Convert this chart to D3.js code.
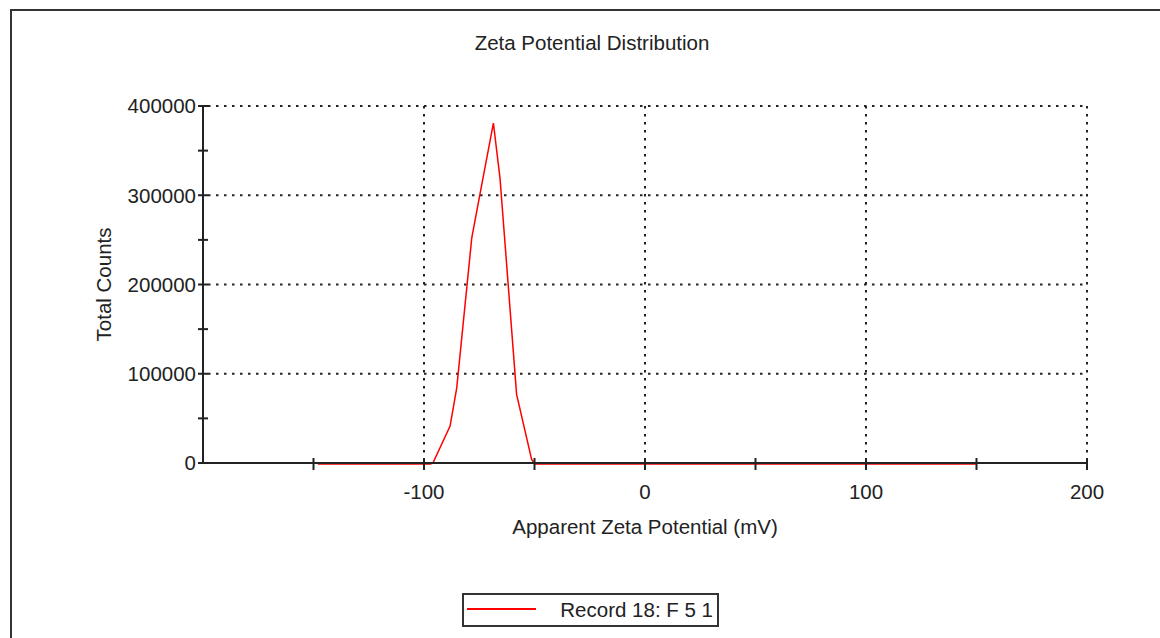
<!DOCTYPE html>
<html>
<head>
<meta charset="utf-8">
<script src="https://cdn.jsdelivr.net/npm/d3@7"></script>
<style>
  html, body { margin: 0; padding: 0; background: #fff; }
  svg { display: block; }
  text { font-family: "Liberation Sans", Arial, sans-serif; fill: #222; }
</style>
</head>
<body>
<div id="chart"></div>
<script>
// Data
const zeta = [-148, -97, -95.8, -88.2, -85.2, -78.4, -74.7, -68.6, -65.6, -58.1, -51.3, -49.8, 150]
const counts = [0, 0, 2000, 42500, 85000, 253000, 302000, 382000, 320000, 78000, 5000, 0, 0]

const xTicks = [-200, -150, -100, -50, 0, 50, 100, 150, 200]
const xGrid = [-100, 0, 100, 200]
const xLabels = [-100, 0, 100, 200]
const yTicks = [0, 50000, 100000, 150000, 200000, 250000, 300000, 350000, 400000]
const yGrid = [100000, 200000, 300000, 400000]
const yLabels = [0, 100000, 200000, 300000, 400000]

const title = 'Zeta Potential Distribution'
const xTitle = 'Apparent Zeta Potential (mV)'
const yTitle = 'Total Counts'
const seriesName = 'Record 18: F 5 1'

const W = 1160
const H = 638
const ink = '#222'
const fontSize = 20.5

const svg = d3.select('#chart').append('svg')
  .attr('width', W)
  .attr('height', H)

// outer frame (runs off the right and bottom edges)
svg.append('rect')
  .attr('x', 11)
  .attr('y', 10)
  .attr('width', W + 20)
  .attr('height', H + 20)
  .attr('fill', 'none')
  .attr('stroke', '#333')
  .attr('stroke-width', 2)

const x = d3.scaleLinear().domain([-200, 200]).range([203, 1087])
const y = d3.scaleLinear().domain([0, 400000]).range([463, 106])

// grid
const grid = svg.append('g')
  .attr('stroke', ink)
  .attr('stroke-width', 2)
  .attr('stroke-dasharray', '2.5,5.5')

grid.selectAll('.hgrid')
  .data(yGrid)
  .enter().append('line')
  .attr('x1', x(-200) + 5)
  .attr('x2', x(200))
  .attr('y1', d => y(d))
  .attr('y2', d => y(d))

grid.selectAll('.vgrid')
  .data(xGrid)
  .enter().append('line')
  .attr('x1', d => x(d))
  .attr('x2', d => x(d))
  .attr('y1', y(400000))
  .attr('y2', y(0) - 6)

// data line, sits just under the baseline
const line = d3.line()
  .x((d, i) => x(zeta[i]))
  .y(d => y(d))

svg.append('path')
  .datum(counts)
  .attr('d', line)
  .attr('transform', 'translate(0,1)')
  .attr('fill', 'none')
  .attr('stroke', '#f00')
  .attr('stroke-width', 1.5)

// axes
const axes = svg.append('g')
  .attr('stroke', ink)
  .attr('stroke-width', 2)

axes.append('line')
  .attr('x1', x(-200)).attr('x2', x(200))
  .attr('y1', y(0)).attr('y2', y(0))

axes.append('line')
  .attr('x1', x(-200)).attr('x2', x(-200))
  .attr('y1', y(400000)).attr('y2', y(0))

axes.selectAll('.xtick')
  .data(xTicks.filter(d => d > -200))
  .enter().append('line')
  .attr('x1', d => x(d)).attr('x2', d => x(d))
  .attr('y1', y(0) - 5).attr('y2', y(0) + 7)

axes.selectAll('.ytick')
  .data(yTicks)
  .enter().append('line')
  .attr('x1', x(-200) - 5).attr('x2', x(-200) + 5)
  .attr('y1', d => y(d)).attr('y2', d => y(d))

svg.selectAll('.xlabel')
  .data(xLabels)
  .enter().append('text')
  .attr('x', d => x(d))
  .attr('y', y(0) + 36)
  .attr('text-anchor', 'middle')
  .style('font-size', fontSize + 'px')
  .text(d => d)

svg.selectAll('.ylabel')
  .data(yLabels)
  .enter().append('text')
  .attr('x', x(-200) - 7)
  .attr('y', d => y(d))
  .attr('dy', '0.36em')
  .attr('text-anchor', 'end')
  .style('font-size', fontSize + 'px')
  .text(d => d)

// titles
svg.append('text')
  .attr('x', 592)
  .attr('y', 50)
  .attr('text-anchor', 'middle')
  .style('font-size', fontSize + 'px')
  .text(title)

svg.append('text')
  .attr('x', x(0))
  .attr('y', 534)
  .attr('text-anchor', 'middle')
  .style('font-size', fontSize + 'px')
  .text(xTitle)

svg.append('text')
  .attr('transform', `translate(111,${(y(0) + y(400000)) / 2}) rotate(-90)`)
  .attr('text-anchor', 'middle')
  .style('font-size', fontSize + 'px')
  .text(yTitle)

// legend
const legend = svg.append('g').attr('transform', 'translate(463,594)')

legend.append('rect')
  .attr('width', 255)
  .attr('height', 32)
  .attr('fill', '#fff')
  .attr('stroke', '#333')
  .attr('stroke-width', 2)

legend.append('line')
  .attr('x1', 4).attr('x2', 73)
  .attr('y1', 15).attr('y2', 15)
  .attr('stroke', '#f00')
  .attr('stroke-width', 2)

legend.append('text')
  .attr('x', 250)
  .attr('y', 23)
  .attr('text-anchor', 'end')
  .style('font-size', fontSize + 'px')
  .text(seriesName)
</script>
</body>
</html>
